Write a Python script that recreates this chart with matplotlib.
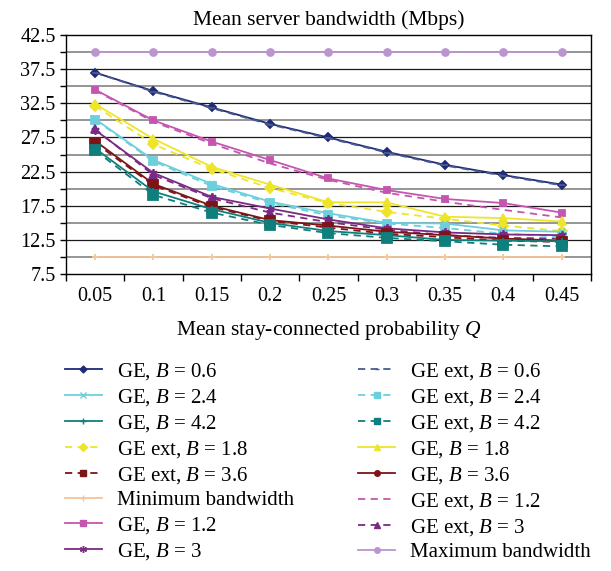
import matplotlib
matplotlib.use("Agg")
import matplotlib.pyplot as plt
from matplotlib.lines import Line2D
import numpy as np

# ---------------- data ----------------
q_labels = ["0.05", "0.1", "0.15", "0.2", "0.25", "0.3", "0.35", "0.4", "0.45"]

ge_06 = [37.0, 34.3, 31.9, 29.5, 27.5, 25.4, 23.5, 22.0, 20.6]
ge_ext_06 = [37.0, 34.2, 31.8, 29.4, 27.4, 25.3, 23.4, 21.9, 20.5]
ge_12 = [34.5, 30.0, 26.9, 24.2, 21.5, 19.8, 18.5, 17.9, 16.5]
ge_ext_12 = [34.4, 29.8, 26.6, 23.7, 21.3, 19.4, 18.1, 16.9, 15.8]
ge_18 = [32.4, 27.3, 23.2, 20.6, 18.0, 18.0, 15.9, 15.7, 15.2]
ge_ext_18 = [32.1, 26.5, 22.9, 20.1, 17.9, 16.6, 15.6, 14.6, 13.8]
ge_24 = [30.2, 24.2, 20.7, 18.1, 16.4, 15.0, 14.9, 13.9, 13.7]
ge_ext_24 = [30.1, 24.0, 20.4, 17.9, 16.1, 14.9, 14.25, 13.4, 13.0]
ge_30 = [28.6, 22.3, 18.8, 17.1, 15.5, 14.2, 13.6, 13.3, 13.2]
ge_ext_30 = [28.7, 22.0, 18.6, 16.5, 15.1, 14.0, 13.2, 12.8, 12.7]
ge_36 = [27.0, 20.7, 17.5, 15.4, 14.6, 13.7, 13.2, 12.7, 12.4]
ge_ext_36 = [26.7, 20.5, 17.3, 15.3, 14.3, 13.4, 12.9, 12.4, 12.2]
ge_42 = [25.9, 19.6, 17.0, 15.0, 13.8, 13.2, 12.5, 12.4, 12.3]
ge_ext_42 = [25.6, 19.1, 16.5, 14.7, 13.5, 12.8, 12.3, 11.8, 11.55]
min_bw = [10, 10, 10, 10, 10, 10, 10, 10, 10]
max_bw = [40, 40, 40, 40, 40, 40, 40, 40, 40]

y_ticks = [7.5, 12.5, 17.5, 22.5, 27.5, 32.5, 37.5, 42.5]

# ---------------- style ----------------
plt.rcParams["font.family"] = ["Liberation Serif", "DejaVu Serif"]
plt.rcParams["mathtext.fontset"] = "custom"
plt.rcParams["mathtext.it"] = "Liberation Serif:italic"
plt.rcParams["mathtext.rm"] = "Liberation Serif"

NAVY = "#1f2a78"
NAVY_EXT = "#4a5a8c"
PINK = "#c556b0"
YELLOW = "#eee52a"
CYAN = "#6ccfdc"
PURPLE = "#7a2a84"
DRED = "#7d1418"
TEAL = "#0f7f7d"
ORANGE = "#f6c597"
LPURPLE = "#bb95cf"

fig = plt.figure(figsize=(6.11, 5.71), dpi=100)
ax = fig.add_axes([0.108, 0.520, 0.859, 0.4186])

x = np.arange(len(q_labels))

# series: (data, label, color, linestyle, marker, plot-markersize, legend-markersize)
series = {
    "ge_06": (ge_06, "GE, $B$ = 0.6", NAVY, "-", "D", 4.5, 3.5),
    "ge_24": (ge_24, "GE, $B$ = 2.4", CYAN, "-", "x", 5, 4),
    "ge_42": (ge_42, "GE, $B$ = 4.2", TEAL, "-", "+", 5, 4),
    "ge_ext_18": (ge_ext_18, "GE ext, $B$ = 1.8", YELLOW, "--", "D", 5, 4),
    "ge_ext_36": (ge_ext_36, "GE ext, $B$ = 3.6", DRED, "--", "s", 7, 4),
    "min": (min_bw, "Minimum bandwidth", ORANGE, "-", "+", 5, 4),
    "ge_12": (ge_12, "GE, $B$ = 1.2", PINK, "-", "s", 5, 4),
    "ge_30": (ge_30, "GE, $B$ = 3", PURPLE, "-", (6, 2, 0), 6, 5),
    "ge_ext_06": (ge_ext_06, "GE ext, $B$ = 0.6", NAVY_EXT, "--", "_", 4, 3),
    "ge_ext_24": (ge_ext_24, "GE ext, $B$ = 2.4", CYAN, "--", "s", 6, 4),
    "ge_ext_42": (ge_ext_42, "GE ext, $B$ = 4.2", TEAL, "--", "s", 7.5, 4),
    "ge_18": (ge_18, "GE, $B$ = 1.8", YELLOW, "-", "^", 6, 4.5),
    "ge_36": (ge_36, "GE, $B$ = 3.6", DRED, "-", "o", 4, 4),
    "ge_ext_12": (ge_ext_12, "GE ext, $B$ = 1.2", PINK, "--", "None", 0, 0),
    "ge_ext_30": (ge_ext_30, "GE ext, $B$ = 3", PURPLE, "--", "^", 6, 4.5),
    "max": (max_bw, "Maximum bandwidth", LPURPLE, "-", "o", 5, 4),
}

# gridlines
for g in np.arange(10, 42.5, 2.5):
    major = abs(((g - 7.5) / 5) - round((g - 7.5) / 5)) < 1e-6
    ax.axhline(g, color="#1a1a1a" if major else "#8c8c8c",
               lw=0.9 if major else 1.3, zorder=1)

draw_order = ["max", "min", "ge_ext_12", "ge_12", "ge_06", "ge_ext_06",
              "ge_ext_18", "ge_18", "ge_ext_24", "ge_24", "ge_ext_30", "ge_30",
              "ge_36", "ge_ext_36", "ge_42", "ge_ext_42"]
for i, k in enumerate(draw_order):
    d, lab, c, ls, m, ms, lms = series[k]
    kw = dict(color=c, marker=m, ms=ms, lw=1.3, mec=c, mfc=c, mew=1.3,
              zorder=3 + i)
    if ls == "--":
        kw["dashes"] = (4, 3)
    else:
        kw["ls"] = "-"
    ax.plot(x, d, **kw)

ax.set_xlim(-0.5, len(q_labels) - 0.5)
ax.set_ylim(7.5, 42.5)
ax.set_xticks(x)
ax.set_xticklabels(q_labels)
ax.set_xticks(np.arange(-0.5, len(q_labels), 1.0), minor=True)
ax.tick_params(axis="x", which="major", length=0, pad=9, labelsize=14.5)
ax.tick_params(axis="x", which="minor", length=5, width=1, direction="out")
ax.set_yticks(y_ticks)
ax.set_yticklabels([f"{v:g}" for v in y_ticks])
ax.set_yticks(np.arange(7.5, 42.6, 2.5), minor=True)
ax.tick_params(axis="y", which="both", length=4, width=1, direction="out",
               labelsize=14.5)
for s in ax.spines.values():
    s.set_linewidth(1.0)
    s.set_color("black")

ax.set_title("Mean server bandwidth (Mbps)", fontsize=15.5, pad=7)
ax.set_xlabel("Mean stay-connected probability $Q$", fontsize=15.5, labelpad=10)

handles = []
for k in ["ge_06", "ge_24", "ge_42", "ge_ext_18", "ge_ext_36", "min", "ge_12", "ge_30",
          "ge_ext_06", "ge_ext_24", "ge_ext_42", "ge_18", "ge_36", "ge_ext_12",
          "ge_ext_30", "max"]:
    d, lab, c, ls, m, ms, lms = series[k]
    kw = dict(color=c, marker=m, ms=lms, lw=1.3, mec=c, mfc=c, label=lab)
    if ls == "--":
        kw["dashes"] = (4, 3)
    handles.append(Line2D([], [], **kw))

fig.legend(handles=handles, ncol=2, loc="upper left",
           bbox_to_anchor=(0.093, 0.382), frameon=False, fontsize=15,
           handlelength=1.75, handletextpad=0.72, columnspacing=3.1,
           labelspacing=0.24, borderaxespad=0)

fig.savefig("out.png", dpi=100)
